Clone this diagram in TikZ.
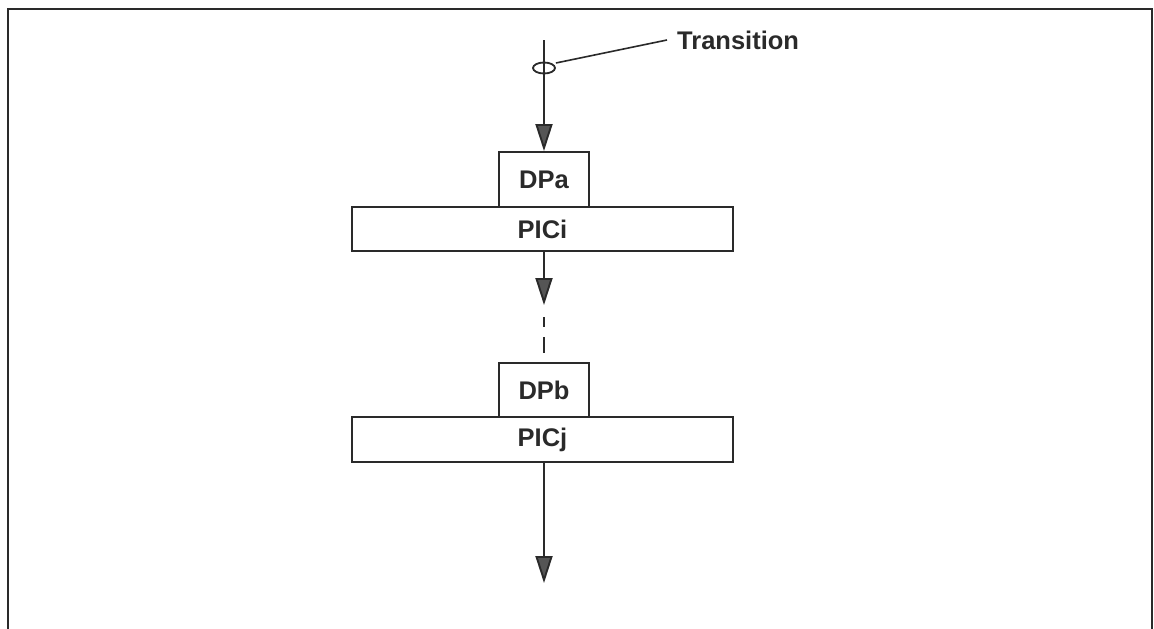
\documentclass[tikz,border=0pt]{standalone}
\usepackage{fontspec}
\setmainfont{Liberation Sans}
\usetikzlibrary{arrows.meta,shapes.geometric}
\definecolor{ink}{HTML}{2A2A2A}
\definecolor{headfill}{HTML}{555555}
\begin{document}
\begin{tikzpicture}[x=1pt,y=-1pt,
  every node/.style={font=\fontsize{25.5}{28}\selectfont\bfseries, text=ink},
  box/.style={draw=ink, line width=1.9pt, rectangle, inner sep=0pt},
  flow/.style={draw=ink, line width=1.9pt,
    -{Triangle[length=27pt,width=17pt,fill=headfill]}},
  frame/.style={draw=ink, line width=2.4pt}]
  \useasboundingbox (0,0) rectangle (1154,629);
  % outer frame
  \draw[frame] (8,629) -- (8,9) -- (1152,9) -- (1152,629);

  % processing stages
  \node[box, minimum width=90pt, minimum height=55pt] (dpa) at (544,179.5) {DPa};
  \node[box, minimum width=381pt, minimum height=44pt] (pici) at (542.5,229) {PICi};
  \node[box, minimum width=90pt, minimum height=54pt] (dpb) at (544,390) {DPb};
  \node[box, minimum width=381pt, minimum height=45pt] (picj) at (542.5,439.5) {PICj};

  % flow of the signal
  \coordinate (in) at (544,40);
  \coordinate (gap) at (544,305);
  \coordinate (gapend) at (544,317);
  \coordinate (out) at (544,583);
  \draw[flow] (in) -- (dpa.north);
  \draw[flow] (pici.south -| gap) -- (gap);
  \draw[draw=ink, line width=2pt, dash pattern=on 10pt off 10pt on 16pt off 10pt] (gapend) -- (dpb.north -| gapend);
  \draw[flow] (picj.south -| out) -- (out);

  % transition marker and its label
  \node[draw=ink, line width=1.8pt, ellipse, minimum width=22pt, minimum height=11pt, inner sep=0pt] (tr) at (544,68) {};
  \node[anchor=west, inner sep=10pt] (trlabel) at (667,40) {Transition};
  \draw[draw=ink, line width=1.6pt] (tr.east) ++(0,-5) -- (trlabel.west);
\end{tikzpicture}
\end{document}
